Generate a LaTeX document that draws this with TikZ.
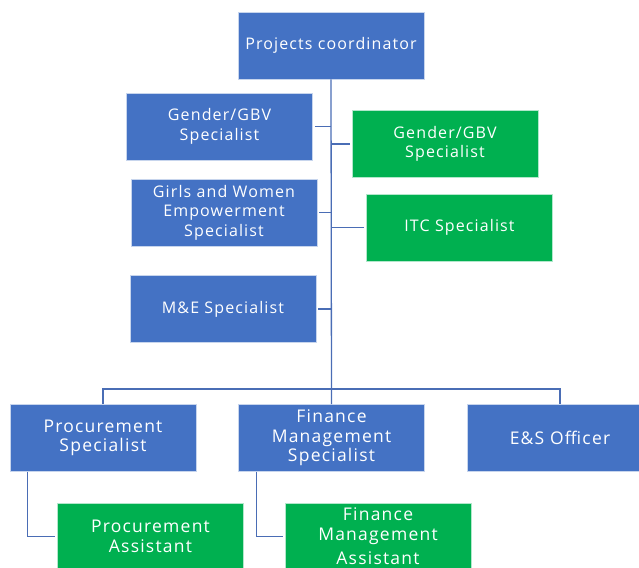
\documentclass[tikz,border=0pt]{standalone}
\usepackage{fontspec}
\setmainfont{Open Sans}[LetterSpace=7]
\usepackage{tikz}
\usetikzlibrary{positioning}
\definecolor{boxblue}{HTML}{4472C4}
\definecolor{boxgreen}{HTML}{00B050}
\definecolor{lineblue}{HTML}{4A6DB5}

\begin{document}
\begin{tikzpicture}[
      x=1pt, y=-1pt,
      font=\fontsize{16}{19.5}\selectfont,
      post/.style={draw=white!70!boxblue, line width=0.6pt, fill=boxblue,
                   text=white, align=center, minimum width=186pt,
                   minimum height=67pt, inner sep=2pt},
      gpost/.style={post, fill=boxgreen, draw=white!70!boxgreen},
      big/.style={font=\fontsize{17.5}{19.5}\selectfont},
      link/.style={draw=lineblue, line width=1.3pt}
    ]
    \useasboundingbox (0,0) rectangle (639,567);
    \clip (0,0) rectangle (639,567);
    \node[post]  (coord) at (331,45.5)  {Projects coordinator};
    % staff beside the trunk
    \node[post]  (gbvL)  at (219.5,126.5) {Gender/GBV\\Specialist};
    \node[gpost] (gbvR)  at (445,144)     {Gender/GBV\\Specialist};
    \node[post]  (girls) at (224,212.5)   {Girls and Women\\Empowerment\\Specialist};
    \node[gpost] (itc)   at (459.5,227.5) {ITC Specialist};
    \node[post]  (me)    at (223,309)     {M\&E Specialist};
    % bottom row
    \node[post, big]  (proc)  at (103,438)     {Procurement\\Specialist};
    \node[post, big]  (fin)   at (331.5,438)   {Finance\\Management\\Specialist};
    \node[post, big]  (es)    at (560,438)     {E\&S Officer};
    \node[gpost, big] (procA) at (150.5,536.5) {Procurement\\Assistant};
    \node[gpost, big] (finA)  at (378,536.5)   {Finance\\Management\\[5pt]Assistant};
    \coordinate (bus) at (331,389);
    \draw[link] (coord.south) -- (fin.north);
    \draw[link, shorten <=2pt] (gbvL.east) -- (gbvL.east -| coord.south);
    \draw[link, shorten <=2pt] (gbvR.west) -- (gbvR.west -| coord.south);
    \draw[link, shorten <=2pt] (girls.east) -- (girls.east -| coord.south);
    \draw[link, shorten <=2pt] (itc.west) -- (itc.west -| coord.south);
    \draw[link, shorten <=2pt] (me.east) -- (me.east -| coord.south);
    \draw[link] (proc.north) |- (bus) -| (es.north);
    % assistants
    \draw[link, shorten >=2pt] ([xshift=18pt]proc.south west) |- (procA.west);
    \draw[link, shorten >=2pt] ([xshift=18pt]fin.south west) |- (finA.west);
  \end{tikzpicture}
\end{document}
